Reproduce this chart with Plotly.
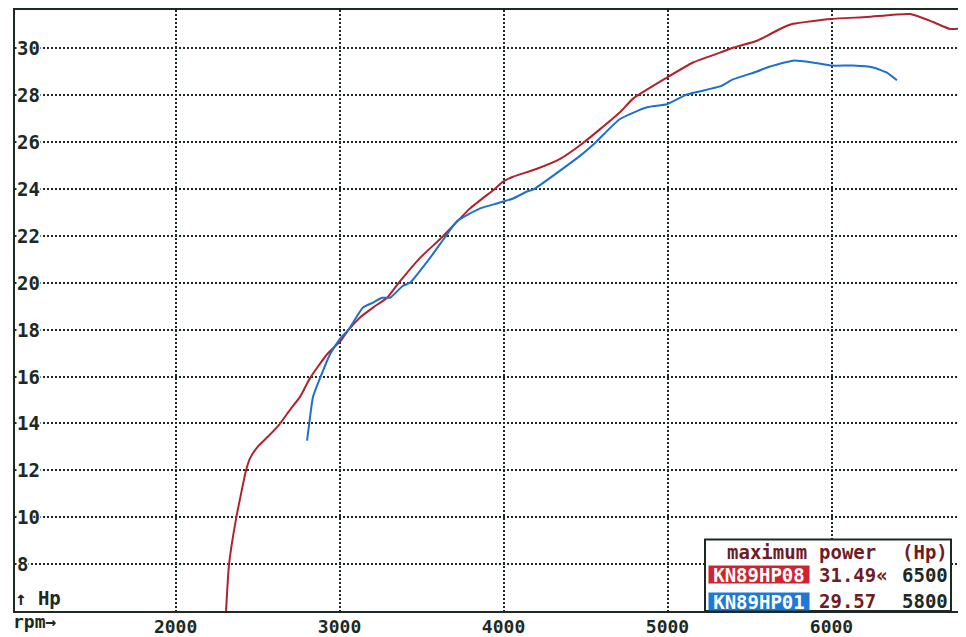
import plotly.graph_objects as go

# ---------------- data ----------------
rpm_hp08 = [2308, 2326, 2369, 2430, 2454, 2503, 2564, 2631, 2698, 2759, 2820, 2924, 3009, 3052,
            3125, 3204, 3290, 3357, 3491, 3625, 3796, 3948, 3997, 4058, 4204, 4345, 4485, 4589,
            4710, 4790, 4997, 5155, 5320, 5399, 5546, 5607, 5686, 5765, 5997, 6216, 6479, 6619,
            6723, 6820]
hp_hp08 = [6.0, 7.98, 9.93, 12.0, 12.51, 13.02, 13.44, 13.94, 14.58, 15.13, 15.93, 16.95, 17.54, 17.97,
           18.52, 18.94, 19.36, 19.96, 21.06, 21.94, 23.17, 24.01, 24.31, 24.52, 24.86, 25.28, 25.96, 26.55,
           27.27, 27.85, 28.75, 29.39, 29.81, 30.02, 30.32, 30.53, 30.82, 31.04, 31.25, 31.33, 31.46, 31.12,
           30.82, 30.87]

rpm_hp01 = [2802, 2814, 2838, 2881, 2942, 3009, 3052, 3143, 3204, 3259, 3308, 3387, 3430, 3552,
            3643, 3716, 3857, 3960, 3997, 4058, 4143, 4180, 4466, 4558, 4710, 4875, 4997, 5119,
            5320, 5399, 5546, 5607, 5765, 5887, 6003, 6131, 6253, 6338, 6399]
hp_hp01 = [13.27, 13.94, 15.13, 15.93, 16.95, 17.67, 17.97, 18.94, 19.15, 19.36, 19.36, 19.87, 20.0, 21.06,
           21.94, 22.62, 23.17, 23.38, 23.46, 23.59, 23.89, 23.97, 25.41, 25.96, 26.98, 27.48, 27.61, 28.03,
           28.37, 28.67, 29.01, 29.18, 29.47, 29.39, 29.26, 29.26, 29.18, 28.96, 28.63]

x_ticks = [2000, 3000, 4000, 5000, 6000]
y_ticks = [8, 10, 12, 14, 16, 18, 20, 22, 24, 26, 28, 30]

series_names = ["KN89HP08", "KN89HP01"]
max_power = ["31.49«", "29.57"]
max_rpm = ["6500", "5800"]

# ---------------- style ----------------
OFF = 8                      # browser body margin
W, H = 966 - OFF, 637 - OFF  # figure size
PL, PT, PR, PB = 15, 10, 966, 616   # plot area in page pixels
ML, MT = PL - OFF, PT - OFF
MR = (W + OFF) - PR
MB = (H + OFF) - PB
PW, PH = PR - PL, PB - PT
RED = "#b0222c"
BLUE = "#1d6fd0"
INK = "#1c2a23"
MAROON = "#6e1c26"
FONT = "DejaVu Sans Mono"
FS = 19


def px(xp):
    return (xp - PL) / PW


def py(yp):
    return (PB - yp) / PH


fig = go.Figure()
fig.add_trace(go.Scatter(x=rpm_hp08, y=hp_hp08, mode="lines", name=series_names[0],
                         line=dict(color=RED, width=2, shape="spline", smoothing=0.5)))
fig.add_trace(go.Scatter(x=rpm_hp01, y=hp_hp01, mode="lines", name=series_names[1],
                         line=dict(color=BLUE, width=2, shape="spline", smoothing=0.5)))

ann = []
for v in y_ticks:
    ann.append(dict(x=px(16), xref="paper", y=v, yref="y", text=str(v), showarrow=False,
                    xanchor="left", yanchor="middle", bgcolor="white", borderpad=0,
                    font=dict(family=FONT, size=FS, color=INK, weight="bold")))
ann.append(dict(x=px(13), xref="paper", y=py(603), yref="paper", text="↑ Hp", showarrow=False,
                xanchor="left", yanchor="middle", font=dict(family=FONT, size=FS, color=INK, weight="bold")))
ann.append(dict(x=px(11), xref="paper", y=py(627), yref="paper", text="rpm→", showarrow=False,
                xanchor="left", yanchor="middle", font=dict(family=FONT, size=FS - 1, color=INK, weight="bold")))

shapes = [dict(type="rect", xref="paper", yref="paper", x0=px(705), x1=px(951), y0=py(616), y1=py(544),
               fillcolor="white", line=dict(color=INK, width=2), layer="above")]


def txt(x, y, s, color, anchor="left"):
    ann.append(dict(x=px(x), xref="paper", y=py(y), yref="paper", text=s, showarrow=False,
                    xanchor=anchor, yanchor="middle",
                    font=dict(family=FONT, size=FS, color=color, weight="bold")))


txt(725, 557, "maximum", MAROON)
txt(817, 557, "power", MAROON)
txt(950, 557, "(Hp)", MAROON, "right")
rows_y = [579.5, 606]
for name, col, mp, mr, yy in zip(series_names, ["#cf2430", "#1f78d8"], max_power, max_rpm, rows_y):
    ann.append(dict(x=px(759), xref="paper", y=py(yy), yref="paper", text=name, showarrow=False,
                    xanchor="center", yanchor="middle", bgcolor=col, width=100, height=17,
                    borderpad=0, font=dict(family=FONT, size=FS, color="white", weight="bold")))
    txt(817, yy, mp, MAROON)
    txt(950, yy, mr, INK, "right")

fig.update_layout(
    width=W, height=H,
    margin=dict(l=ML, r=MR, t=MT, b=MB, pad=0),
    paper_bgcolor="white", plot_bgcolor="white",
    showlegend=False,
    annotations=ann, shapes=shapes,
    xaxis=dict(range=[1021, 6820], tickvals=x_ticks, ticktext=[str(v) for v in x_ticks],
               showgrid=True, gridcolor=INK, griddash="2px,2px", gridwidth=1.5,
               showline=True, linecolor=INK, linewidth=2, mirror=True, ticks="",
               ticklabelstandoff=-2,
               zeroline=False, tickfont=dict(family=FONT, size=FS - 1, color=INK, weight="bold")),
    yaxis=dict(range=[6.0, 31.63], tickvals=y_ticks, showticklabels=False,
               showgrid=True, gridcolor=INK, griddash="2px,2px", gridwidth=1.5,
               showline=True, linecolor=INK, linewidth=2, mirror=False, ticks="",
               zeroline=False),
)

fig.write_html("out.html")
